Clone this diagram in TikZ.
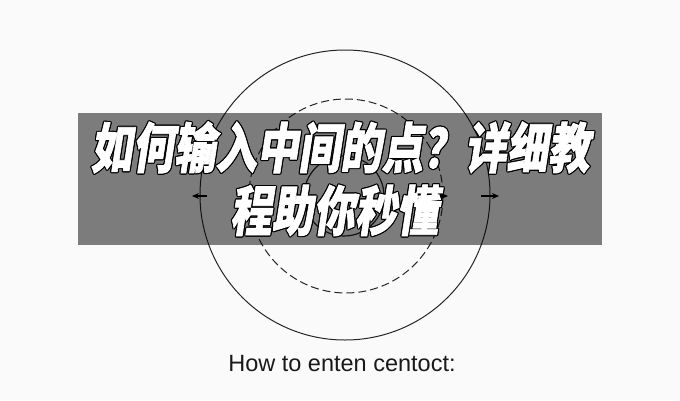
\documentclass[tikz,border=0pt]{standalone}
\usepackage{fontspec}
\setmainfont{Liberation Sans}
\newfontfamily\cjk{Noto Sans CJK SC}[FakeSlant=0.2, FakeBold=1.5]
\usepackage[copies]{contour}
\contourlength{1.2pt}
\contournumber{8}
\usetikzlibrary{arrows.meta}

\newcommand{\bannertext}[1]{\contour{black}{\scalebox{0.77}[1]{#1}}}

\tikzset{
  ring/.style = {draw = black!85, line width = 1pt},
  tick/.style = {-{Stealth[length = 7pt, width = 6pt]}, line width = 1.3pt},
  title/.style = {text = white, inner sep = 0pt,
    font = \cjk\bfseries\fontsize{54}{60}\selectfont},
}

\begin{document}
\begin{tikzpicture}[x = 1pt, y = -1pt]
  \useasboundingbox[fill = black!2] (0, 0) rectangle (680, 400);

  % target rings
  \draw[ring] (345, 195) circle (145);
  \draw[ring, dash pattern = on 8pt off 4pt] (346, 196) circle (97);
  \draw[ring, line width = 1.2pt] (344, 196) circle (40);

  % side arrows
  \coordinate (lin) at (207, 196);
  \coordinate (lout) at (192, 196);
  \coordinate (rin) at (481, 196);
  \coordinate (rout) at (499, 196);
  \coordinate (din) at (436, 196);
  \coordinate (dout) at (448, 196);
  \draw[tick] (lin) -- (lout);
  \draw[tick] (rin) -- (rout);
  \draw[tick] (din) -- (dout);

  % banner
  \fill[black, fill opacity = 0.5] (78, 113) rectangle (602, 245);
  \node[title] (head) at (340, 148) {\bannertext{如何输入中间的点？详细教}};
  \node[title] (tail) at (334, 211) {\bannertext{程助你秒懂}};

  \node[font = \fontsize{23.5}{28}\selectfont, text = black!90]
    (caption) at (342, 364) {How to enten centoct:};
\end{tikzpicture}
\end{document}
